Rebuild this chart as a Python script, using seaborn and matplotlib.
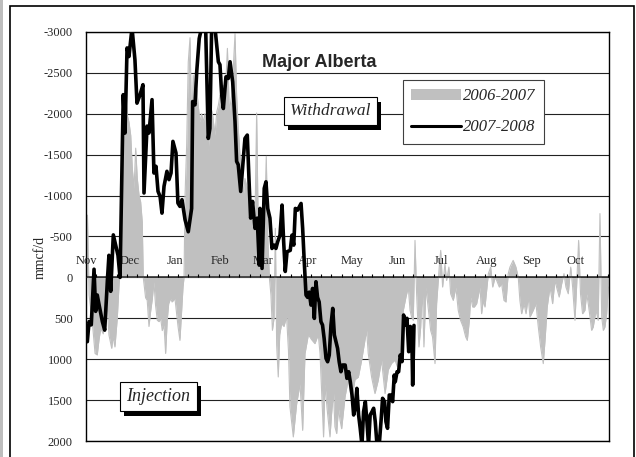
import matplotlib
matplotlib.use("Agg")
import matplotlib.pyplot as plt
import matplotlib.patheffects as pe
from matplotlib.patches import Rectangle, Patch
from matplotlib.lines import Line2D
import numpy as np
import pandas as pd
import seaborn as sns

# day index counted from 1 November, values in mmcf/d (negative = withdrawal)
gray_day = [0, 1.0, 2.1, 4.3, 6.2, 7.7, 8.9, 10.1, 11.8, 13.5, 14.4, 15.7, 17.6,
            18.5, 19.8, 21.4, 22.6, 23.8, 24.8, 26.0, 27.2, 28.3, 29.4, 30.6,
            31.7, 32.9, 34.0, 35.1, 36.3, 37.4, 38.5, 39.2, 40.8, 41.9, 43.1,
            44.2, 45.4, 46.5, 47.6, 48.8, 50.0, 51.1, 52.2, 53.4, 54.5, 55.6,
            56.6, 58.0, 58.9, 60.9, 63.0, 64.3, 66.4, 67.1, 67.8, 68.9, 70.0,
            71.2, 72.3, 73.4, 74.6, 75.8, 76.8, 78.0, 79.1, 80.2, 81.4, 82.6,
            83.7, 84.4, 85.3, 86.7, 88.3, 89.5, 90.6, 91.7, 92.9, 94.0, 95.1,
            96.8, 98.1, 99.7, 100.8, 102.0, 103.1, 104.2, 105.4, 106.6, 107.7,
            108.8, 110.4, 111.8, 112.9, 114.5, 115.7, 116.8, 117.9, 118.6,
            121.0, 122.2, 123.4, 124.4, 125.5, 126.6, 127.6, 128.7, 129.6,
            130.5, 131.6, 132.6, 133.9, 135.5, 137.3, 138.6, 139.6, 141.9,
            144.2, 146.5, 148.3, 149.9, 152.2, 154.4, 156.7, 159.0, 160.2,
            161.5, 162.6, 163.6, 165.0, 167.0, 168.1, 169.4, 170.4, 171.6,
            172.8, 173.9, 175.0, 177.3, 179.5, 181.9, 184.1, 186.4, 188.7,
            190.9, 192.1, 193.2, 195.5, 197.8, 200.0, 202.3, 204.7, 206.9,
            209.2, 211.5, 213.1, 214.9, 217.2, 219.0, 220.6, 221.8, 222.9,
            224.0, 225.2, 226.3, 226.9, 227.9, 229.1, 230.2, 231.3, 232.7,
            234.2, 235.9, 237.2, 238.9, 240.0, 241.8, 242.8, 244.1, 245.7,
            246.8, 248.4, 249.6, 251.4, 253.2, 254.8, 256.4, 258.2, 259.9,
            261.0, 262.4, 263.3, 264.7, 265.8, 267.4, 269.7, 270.8, 271.9,
            273.1, 275.4, 277.0, 278.4, 280.0, 281.1, 282.9, 284.5, 286.1,
            287.5, 289.0, 290.2, 292.4, 294.3, 295.9, 297.0, 298.2, 299.8,
            301.2, 302.7, 303.9, 306.1, 308.0, 309.6, 311.2, 313.0, 314.2,
            315.7, 317.6, 319.4, 321.0, 322.1, 323.9, 325.6, 327.2, 328.5,
            330.1, 331.8, 333.1, 334.7, 335.8, 337.2, 338.5, 339.9, 341.5,
            342.7, 343.8, 345.0, 346.1, 347.2, 349.1, 350.6, 351.8, 353.0,
            354.1, 355.2, 356.4, 357.5]
gray_val = [-760, -760, 215, 541, 930, 948, 760, 623, 690, 419, 300, 704, 867,
            720, 850, 500, 94, -191, -1412, -1778, -2226, -1982, -1900, -1738,
            -1331, -1087, -1580, -1209, -1005, -924, -680, 0, 250, 280, 600,
            420, 260, 53, 340, 525, 541, 500, 650, 580, 930, 520,
            320, 255, 300, 260, 600, 770, 118, 0, -1005, -1616, -2633,
            -2930, -1819, -2470, -2145, -2300, -2104, -1900, -2000, -1900, -2000, -1819,
            -1534, -1819, -2104, -1982, -1738, -2023, -2104, -2226, -2104, -2348, -2145,
            -2800, -2023, -2226, -2550, -2980, -2226, -1819, -1494, -1331, -1005,
            -1209, -1087, -924, -761, -598, -720, -2010, -600, -761,
            -435, -700, -1480, -517, 0, 216, 647, 500, -600,
            826, 1217, 700, 566, 600, 480, 900, 1583, 1950,
            1543, 1300, 1870, 932, 700, 760, 810, 700, 932,
            1500, 1950, 1300, 1600, 1950, 1665, 1400, 1827, 1909,
            1600, 1746, 1850, 1461, 1250, 1500, 1250, 1220, 1010,
            770, 650, 930, 1220, 1420, 1260, 1010, 1420, 1130,
            1050, 1010, 1090, 932, 403, 240, 120, 400, 485,
            525, -452, 200, 444, 850, 606, 118, 850, 118,
            362, 647, 728, 1054, 321, -126, -330, 118, -167,
            37, -126, 200, 281, 118, 403, 525, 606, 728,
            770, 525, 240, 362, 362, 321, 118, 444, 281,
            362, -45, -126, 118, 0, 37, 118, 77, 281,
            301, -45, -126, -208, -126, 0, 281, 444, 321,
            444, 240, 484, 403, 321, 606, 850, 1054, 770,
            362, 118, 321, 37, 118, 240, 77, -45, 118,
            200, -126, 118, 525, 118, -452, 200, 444, 403,
            200, 321, 484, 647, 606, 403, 525, -780, 484,
            647, 606, 444, 118]

# 2007-2008 season (black line)
black_day = [0.9, 2.1, 3.6, 5.5, 6.6, 7.7, 8.9, 11.2, 12.8, 14.6, 15.7, 16.9,
             18.7, 20.3, 21.9, 23.3, 25.5, 26.7, 28.1, 29.4, 31.5, 33.5, 34.9,
             37.0, 39.0, 39.7, 41.8, 43.1, 45.2, 46.5, 47.9, 49.3, 50.7, 52.0,
             53.4, 55.4, 56.8, 58.2, 59.5, 61.6, 62.9, 64.3, 65.7, 67.8, 70.0,
             72.3, 73.0, 74.6, 75.8, 77.5, 79.1, 81.9, 83.7, 84.8, 86.0, 88.3,
             89.5, 90.6, 91.7, 92.9, 94.0, 95.8, 97.4, 98.6, 100.4, 102.0,
             103.1, 104.2, 105.9, 107.2, 108.8, 110.4, 111.8, 112.7, 114.0,
             115.7, 117.2, 118.6, 119.1, 120.5, 122.0, 123.2, 124.4, 125.9,
             127.3, 128.9, 130.0, 131.2, 132.8, 134.2, 135.3, 136.4, 137.6,
             139.8, 141.0, 142.2, 143.3, 144.8, 147.2, 148.3, 149.4, 150.6,
             151.7, 152.8, 154.0, 155.1, 156.3, 157.4, 158.5, 159.6, 160.8,
             161.9, 163.0, 164.3, 165.4, 166.5, 167.7, 168.9, 170.0, 171.1,
             172.2, 173.3, 174.5, 175.6, 177.4, 178.6, 179.8, 180.9, 182.1,
             183.2, 184.3, 185.4, 186.6, 187.7, 188.9, 190.0, 191.2, 192.3,
             193.4, 194.5, 195.8, 196.9, 198.0, 199.2, 200.7, 202.1, 203.0,
             204.4, 205.3, 206.4, 207.6, 209.0, 209.9, 211.0, 211.7, 212.9,
             214.0, 215.1, 216.3, 217.4, 218.5, 219.7, 220.9, 222.0, 223.1,
             223.6, 224.5]
black_val = [786, 540, 580, -100, 415, 215, 330, 540, 645, 50, -270, 170,
             -520, -395, -270, 0, -2234, -1765, -2805, -2700, -3050, -2660, -2130,
             -2234, -2356, -1032, -1850, -1765, -2173, -1276, -1358, -1052, -990, -786,
             -1113, -1297, -1195, -1276, -1663, -1520, -909, -868, -950, -705, -558,
             -843, -2150, -2110, -2517, -2920, -3050, -3050, -1699, -1820, -3050, -3050,
             -2840, -2636, -2600, -2228, -2065, -2452, -2432, -2636, -2391, -1905,
             -1418, -1378, -1051, -1337, -1699, -1740, -1092, -725, -929,
             -599, -725, -150, -843, -110, -1088, -1169, -843, -725,
             -354, -395, -354, -436, -517, -884, -436, -73, -314,
             -330, -517, -395, -843, -822, -904, -599, -191, 216,
             244, 180, 338, 135, 501, 53, 244, 300, 541,
             582, 745, 990, 1031, 949, 582, 379, 704, 786,
             867, 1031, 1153, 1071, 1071, 1234, 1153, 1275, 1438,
             1682, 1600, 1357, 1682, 1845, 2050, 1641, 1519, 1763,
             2050, 1682, 1641, 1600, 1763, 2050, 2050, 1722, 1478,
             1519, 1763, 1845, 1438, 1438, 1519, 1194, 1275, 1153,
             1153, 949, 1030, 460, 582, 500, 908, 600, 786,
             1316, 587]

months = pd.date_range("2007-11-01", periods=12, freq="MS")
month_day = (months - months[0]).days
month_lbl = months.strftime("%b")
y_ticks = [-3000, -2500, -2000, -1500, -1000, -500, 0, 500, 1000, 1500, 2000]
n_days = 358

sns.set_theme(style="white")
plt.rcParams["font.family"] = ["Liberation Serif", "DejaVu Serif"]

fig = plt.figure(figsize=(6.36, 4.57), dpi=100)
ax = fig.add_axes([86 / 636, 16 / 457, 523 / 636, 409 / 457])

ax.fill_between(gray_day, gray_val, 0, color="#c0c0c0", lw=0, zorder=2)
sns.lineplot(x=gray_day, y=gray_val, color="#c0c0c0", lw=0.8, ax=ax,
             sort=False, zorder=2)
sns.lineplot(x=black_day, y=black_val, color="black", lw=2.6, ax=ax,
             sort=False, zorder=5)

ax.set_xlim(0, n_days)
ax.set_ylim(2000, -3000)
ax.set_yticks(y_ticks)
ax.set_yticklabels([str(v) for v in y_ticks], fontsize=9)
ax.tick_params(axis="y", length=0, pad=9.5)
ax.set_xticks([])
ax.yaxis.grid(True, color="#222222", lw=0.8)
ax.set_axisbelow(True)
for s in ax.spines.values():
    s.set_color("black")
    s.set_linewidth(1)
ax.set_xlabel("")
ax.set_ylabel("")

# zero axis with weekly ticks and month names
ax.axhline(0, color="#333333", lw=1.2, zorder=3)
ax.vlines(np.arange(0, n_days, 7), 0, -40, color="black", lw=0.8, zorder=3)
for d, lbl in zip(month_day, month_lbl):
    ax.text(d, -205, lbl, ha="center", va="center", fontsize=9, zorder=4)

ax.text(-0.088, 0.45, "mmcf/d", transform=ax.transAxes, rotation=90,
        ha="center", va="center", fontsize=10)

ax.text(0.3365, 0.914, "Major Alberta", transform=ax.transAxes,
        family="Liberation Sans", fontweight="bold", fontsize=13,
        va="baseline", ha="left", zorder=6)


def shadow_box(txt, x, y, size):
    t = ax.text(x, y, txt, transform=ax.transAxes, ha="center", va="center",
                fontsize=size, style="italic", zorder=8,
                bbox=dict(boxstyle="square,pad=0.35", fc="white",
                          ec="black", lw=0.8))
    t.get_bbox_patch().set_path_effects([
        pe.SimplePatchShadow(offset=(3, -3.5), shadow_rgbFace="black",
                             alpha=1.0),
        pe.Normal()])


shadow_box("Withdrawal", 0.4675, 0.807, 12.5)
shadow_box("Injection", 0.1386, 0.109, 13)

handles = [Patch(fc="#c0c0c0", ec="none"), Line2D([], [], color="black", lw=2.2)]
leg = ax.legend(handles, ["2006-2007", "2007-2008"], loc="upper left",
                bbox_to_anchor=(0.606, 0.8826), borderaxespad=0,
                prop=dict(family="Liberation Serif", style="italic", size=12),
                handlelength=3.0, handletextpad=0.1, labelspacing=0.9,
                borderpad=0.5, fancybox=False, framealpha=1)
leg.get_frame().set_edgecolor("#404040")
leg.get_frame().set_linewidth(0.8)
leg.set_zorder(9)

# outer frame of the picture
fig.patches.append(Rectangle((10 / 636, -0.02), 624 / 636, 1.0069,
                             transform=fig.transFigure, fill=False,
                             ec="black", lw=1.2))
fig.patches.append(Rectangle((0, 0), 2.5 / 636, 1, transform=fig.transFigure,
                             fc="#bdbdbd", ec="none"))

fig.savefig("out.png", dpi=100)
